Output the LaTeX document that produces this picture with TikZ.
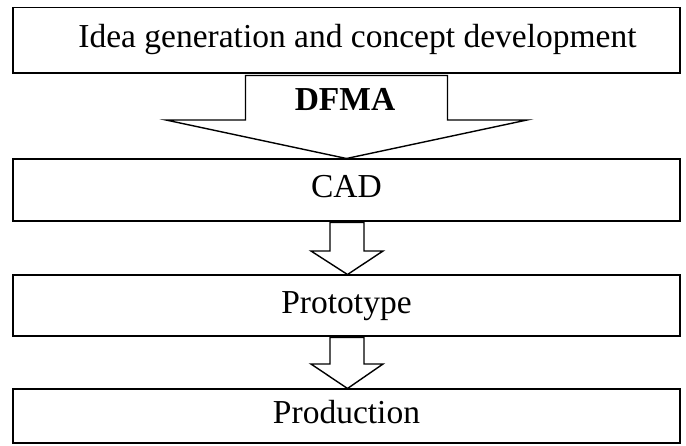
\documentclass[tikz,border=0pt]{standalone}
\usepackage{fontspec}
\setmainfont{Liberation Serif}
\usetikzlibrary{calc}
\begin{document}
\begin{tikzpicture}[x=1pt,y=-1pt,
  stagebox/.style={draw=black,line width=1.8pt,inner sep=0pt,outer sep=0pt,
    minimum width=667pt,text height=22pt,text depth=7pt,
    font=\fontsize{33.5}{38}\selectfont},
  blockarrow/.style={draw=black,line width=1.4pt,fill=white,line join=miter},
  arrowlabel/.style={inner sep=0pt,anchor=base,font=\fontsize{33.5}{38}\selectfont\bfseries}]
\useasboundingbox (0,0) rectangle (686,445);
\node[stagebox,minimum height=65.5pt] (b1) at (346.5,40.25) {\hspace*{22pt}Idea generation and concept development};
\node[stagebox,minimum height=62pt] (b2) at (346.5,190) {CAD};
\node[stagebox,minimum height=61pt] (b3) at (346.5,305.5) {Prototype};
\node[stagebox,minimum height=54pt] (b4) at (346.5,416) {Production};
% big DFMA arrow
\draw[blockarrow] ($(b1.south)+(-101,2.5)$) -- ($(b1.south)+(-101,47)$)
  -- ($(b1.south)+(-180.5,47)$) -- ($(b2.north)+(0,-0.5)$)
  -- ($(b1.south)+(180.5,47)$) -- ($(b1.south)+(101,47)$)
  -- ($(b1.south)+(101,2.5)$) -- cycle;
\node[arrowlabel] (dfma) at (345,110) {DFMA};
% small arrow CAD -> Prototype
\draw[blockarrow] ($(b2.south)+(-16.5,1.5)$) -- ($(b2.south)+(-16.5,30)$)
  -- ($(b2.south)+(-35.5,30)$) -- ($(b3.north)+(1,-0.5)$)
  -- ($(b2.south)+(36.5,30)$) -- ($(b2.south)+(17.5,30)$)
  -- ($(b2.south)+(17.5,1.5)$) -- cycle;
% small arrow Prototype -> Production
\draw[blockarrow] ($(b3.south)+(-16.5,1.5)$) -- ($(b3.south)+(-16.5,28)$)
  -- ($(b3.south)+(-35.5,28)$) -- ($(b4.north)+(1,-0.5)$)
  -- ($(b3.south)+(36.5,28)$) -- ($(b3.south)+(17.5,28)$)
  -- ($(b3.south)+(17.5,1.5)$) -- cycle;
\end{tikzpicture}
\end{document}
